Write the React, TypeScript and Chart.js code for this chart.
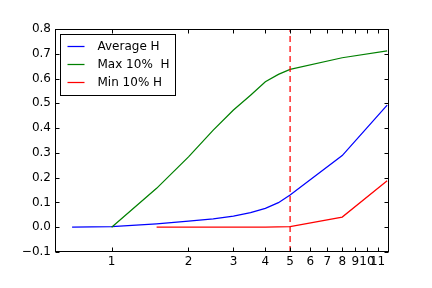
import React, { useEffect, useRef } from 'react';
import { Chart, registerables } from 'chart.js';

Chart.register(...registerables);

// ---- data ----
const AVG_X = [0.7, 1, 1.5, 2, 2.5, 3, 3.5, 4, 4.5, 5, 8, 12];
const AVG_Y = [0, 0.002, 0.014, 0.025, 0.034, 0.045, 0.059, 0.076, 0.099, 0.13, 0.289, 0.493];

const MAX_X = [1, 1.5, 2, 2.5, 3, 3.5, 4, 4.5, 5, 8, 12];
const MAX_Y = [0, 0.157, 0.284, 0.392, 0.473, 0.533, 0.587, 0.617, 0.637, 0.684, 0.712];

const MIN_X = [1.5, 2, 3, 4, 5, 8, 12];
const MIN_Y = [0, 0, 0, 0, 0.002, 0.041, 0.188];

const SERIES_LABELS = ['Average H', 'Max 10%  H', 'Min 10% H'];
const SERIES_COLORS = ['#0000ff', '#008000', '#ff0000'];

const X_TICKS = [1, 2, 3, 4, 5, 6, 7, 8, 9, 10, 11];
const X_MIN = 0.607;
const X_MAX = 12.2;
const Y_MIN = -0.1;
const Y_MAX = 0.8;
const Y_STEP = 0.1;
const VLINE_X = 5;

const FONT = '"DejaVu Sans", sans-serif';
const LW = 1.25;

function pts(xs: number[], ys: number[]) {
  return xs.map((x, i) => ({ x, y: ys[i] }));
}

const framePlugin = {
  id: 'mplFrame',
  afterDraw(chart: any) {
    const { ctx, chartArea } = chart;
    const xs = chart.scales.x;
    const ys = chart.scales.y;
    const l = Math.round(chartArea.left) + 0.5;
    const r = Math.round(chartArea.right) - 0.5;
    const t = Math.round(chartArea.top) + 0.5;
    const b = Math.round(chartArea.bottom) - 0.5;
    ctx.save();
    ctx.strokeStyle = '#000';
    ctx.lineWidth = 1;
    ctx.beginPath();
    X_TICKS.forEach((v) => {
      const px = Math.round(xs.getPixelForValue(v)) + 0.5;
      ctx.moveTo(px, b);
      ctx.lineTo(px, b - 4);
      ctx.moveTo(px, t);
      ctx.lineTo(px, t + 4);
    });
    ys.ticks.forEach((tk: any) => {
      const py = Math.round(ys.getPixelForValue(tk.value)) + 0.5;
      ctx.moveTo(l, py);
      ctx.lineTo(l + 4, py);
      ctx.moveTo(r, py);
      ctx.lineTo(r - 4, py);
    });
    ctx.stroke();
    ctx.strokeRect(l, t, r - l, b - t);

    // legend
    const bx = Math.round(chartArea.left) + 5.5;
    const by = Math.round(chartArea.top) + 5.5;
    const bw = 115;
    const bh = 61;
    ctx.fillStyle = '#fff';
    ctx.fillRect(bx, by, bw, bh);
    ctx.strokeStyle = '#000';
    ctx.strokeRect(bx, by, bw, bh);
    const items = chart.data.datasets.filter((d: any) => !d.isGuide);
    items.forEach((d: any, i: number) => {
      const ry = Math.round(by + 11 + i * 18) + 0.5;
      ctx.strokeStyle = d.borderColor;
      ctx.lineWidth = LW;
      ctx.beginPath();
      ctx.moveTo(bx + 7, ry);
      ctx.lineTo(bx + 24, ry);
      ctx.stroke();
      ctx.fillStyle = '#000';
      ctx.font = '12px ' + FONT;
      ctx.textBaseline = 'middle';
      ctx.textAlign = 'left';
      ctx.fillText(d.label, bx + 37, ry);
    });
    ctx.restore();
  },
};

export default function App() {
  const ref = useRef<HTMLCanvasElement | null>(null);

  useEffect(() => {
    if (!ref.current) return;
    const chart = new Chart(ref.current, {
      type: 'line',
      data: {
        datasets: [
          {
            label: SERIES_LABELS[0],
            data: pts(AVG_X, AVG_Y),
            borderColor: SERIES_COLORS[0],
            borderWidth: LW,
            pointRadius: 0,
            tension: 0,
            order: 3,
          },
          {
            label: SERIES_LABELS[1],
            data: pts(MAX_X, MAX_Y),
            borderColor: SERIES_COLORS[1],
            borderWidth: LW,
            pointRadius: 0,
            tension: 0,
            order: 2,
          },
          {
            label: SERIES_LABELS[2],
            data: pts(MIN_X, MIN_Y),
            borderColor: SERIES_COLORS[2],
            borderWidth: LW,
            pointRadius: 0,
            tension: 0,
            order: 1,
          },
          {
            label: '',
            isGuide: true,
            data: [
              { x: VLINE_X, y: Y_MIN },
              { x: VLINE_X, y: Y_MAX },
            ],
            borderColor: '#ff0000',
            borderWidth: LW,
            borderDash: [6, 4],
            pointRadius: 0,
            tension: 0,
            order: 0,
          } as any,
        ],
      },
      options: {
        responsive: false,
        animation: false,
        events: [],
        layout: { padding: { left: 0, top: 29, right: 43, bottom: 0 } },
        plugins: {
          legend: { display: false },
          tooltip: { enabled: false },
        },
        scales: {
          x: {
            type: 'logarithmic',
            min: X_MIN,
            max: X_MAX,
            grid: { display: false, drawTicks: false },
            border: { display: false },
            afterBuildTicks: (s: any) => {
              s.ticks = X_TICKS.map((v) => ({ value: v }));
            },
            afterFit: (s: any) => {
              s.height = 36;
            },
            ticks: {
              autoSkip: false,
              maxRotation: 0,
              minRotation: 0,
              padding: 3,
              color: '#000',
              font: { family: FONT, size: 12 },
              callback: (v: any) => String(v),
            },
          },
          y: {
            type: 'linear',
            min: Y_MIN,
            max: Y_MAX,
            grid: { display: false, drawTicks: false },
            border: { display: false },
            afterFit: (s: any) => {
              s.width = 55;
            },
            ticks: {
              stepSize: Y_STEP,
              padding: 4,
              color: '#000',
              font: { family: FONT, size: 12 },
              callback: (v: any) => {
                const n = Number(v);
                if (Math.abs(n) < 1e-9) return '0.0';
                return n < 0 ? '\u2212' + Math.abs(n).toFixed(1) : n.toFixed(1);
              },
            },
          },
        },
      },
      plugins: [framePlugin],
    } as any);
    return () => chart.destroy();
  }, []);

  return (
    <div style={{ position: 'fixed', left: 0, top: 0, width: 432, height: 288, background: '#fff' }}>
      <canvas ref={ref} width={432} height={288} style={{ display: 'block', width: 432, height: 288 }} />
    </div>
  );
}
